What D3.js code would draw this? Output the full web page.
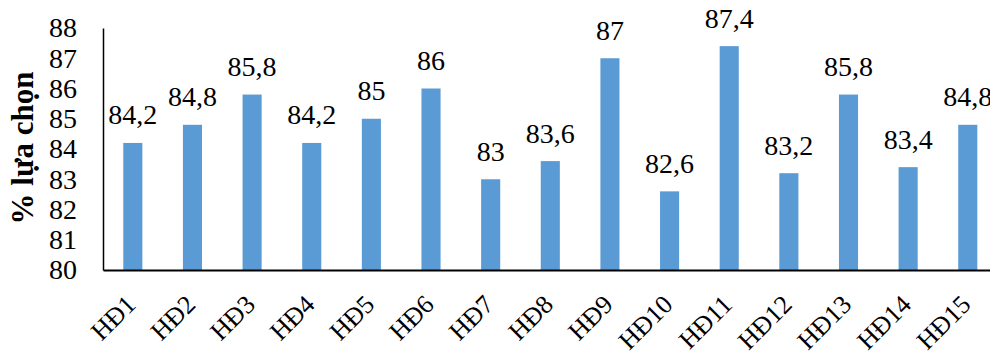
<!DOCTYPE html>
<html><head><meta charset="utf-8">
<script src="https://cdn.jsdelivr.net/npm/d3@7"></script>
<style>body{margin:0;background:#fff}</style>
</head><body>
<svg id="c" width="990" height="352" style="font-family:'Liberation Serif','Times New Roman',Times,serif"></svg>
<script>
const categories = ["HĐ1","HĐ2","HĐ3","HĐ4","HĐ5","HĐ6","HĐ7","HĐ8","HĐ9","HĐ10","HĐ11","HĐ12","HĐ13","HĐ14","HĐ15"];
const values = [84.2,84.8,85.8,84.2,85,86,83,83.6,87,82.6,87.4,83.2,85.8,83.4,84.8];
const yTicks = [80,81,82,83,84,85,86,87,88];
const yLabel = "% lựa chọn";

(function(){
const FONT = "'Liberation Serif','Times New Roman',Times,serif";
const svg = d3.select("#c");
const mLeft = 103, mTop = 28, mBottom = 270, mRight = 103 + 15*59.64;
const x = d3.scaleBand().domain(categories).range([mLeft, mRight]).paddingInner(0.68).paddingOuter(0.34);
const y = d3.scaleLinear().domain([80,88]).range([mBottom, mTop]);
const fmt = v => String(v).replace(".", ",");

svg.selectAll("rect.bar").data(values).join("rect")
  .attr("class","bar")
  .attr("x",(d,i)=>x(categories[i]))
  .attr("width",x.bandwidth())
  .attr("y",d=>y(d))
  .attr("height",d=>mBottom-y(d))
  .attr("fill","#5B9BD5");

svg.selectAll("text.lbl").data(values).join("text")
  .attr("class","lbl")
  .attr("x",(d,i)=>x(categories[i])+x.bandwidth()/2)
  .attr("y",d=>y(d)-18.5)
  .attr("text-anchor","middle")
  .style("font-family",FONT).style("font-size","28px").style("fill","#000")
  .text(fmt);

const ya = svg.append("g").attr("transform",`translate(${mLeft},0)`)
  .call(d3.axisLeft(y).tickValues(yTicks).tickSize(0).tickPadding(26).tickFormat(d3.format("d")));
ya.attr("font-family",FONT).attr("font-size",28);
ya.select(".domain").attr("stroke","#000").attr("stroke-width",1.5);
ya.selectAll("text").style("font-family",FONT).style("font-size","28px").style("fill","#000");

const xa = svg.append("g").attr("transform",`translate(0,${mBottom})`)
  .call(d3.axisBottom(x).tickSize(0).tickPadding(0));
xa.attr("font-family",FONT).attr("font-size",26);
xa.select(".domain").attr("stroke","#000").attr("stroke-width",2);
xa.selectAll("text").style("font-family",FONT).style("font-size","26px").style("fill","#000")
  .attr("text-anchor","end").attr("dy",null).attr("y",0).attr("x",0)
  .attr("transform","translate(4.5,36) rotate(-45)");

svg.append("text")
  .attr("transform",`translate(33,148) rotate(-90)`)
  .attr("text-anchor","middle")
  .style("font-family",FONT).style("font-size","31px").style("font-weight","bold").style("fill","#000")
  .text(yLabel);
})();
</script>
</body></html>
